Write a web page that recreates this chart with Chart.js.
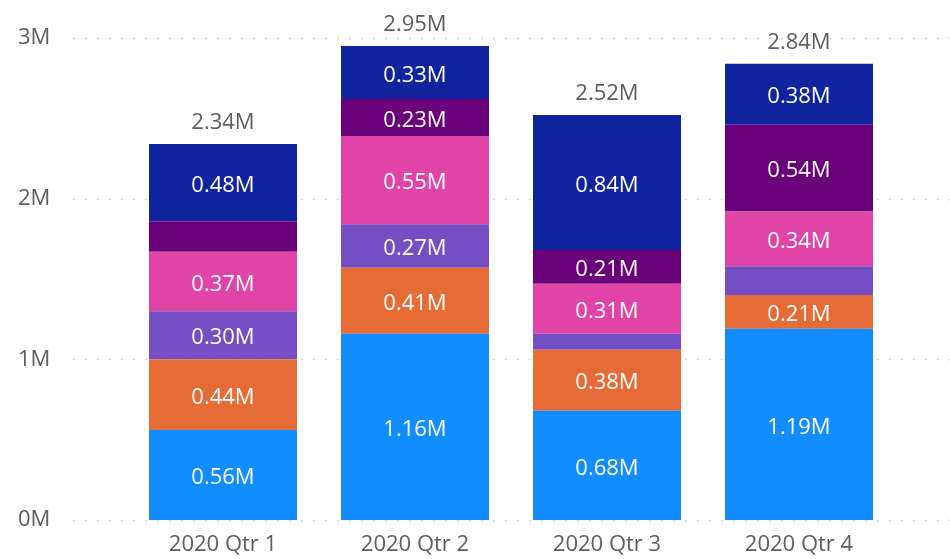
<!DOCTYPE html>
<html lang="en">
<head>
    <meta charset="UTF-8">
    <title>Quarterly Stacked Columns</title>
    <script src="https://cdn.jsdelivr.net/npm/chart.js"></script>
    <style>
        html, body {
            margin: 0;
            padding: 0;
            background: #ffffff;
        }
        .wrap {
            width: 950px;
            height: 559px;
        }
    </style>
</head>
<body>
    <div class="wrap">
        <canvas id="qtrChart" width="950" height="559"></canvas>
    </div>

    <script>
        // values in millions, bottom segment first
        const quarters = ['2020 Qtr 1', '2020 Qtr 2', '2020 Qtr 3', '2020 Qtr 4'];
        const seriesA = [0.56, 1.16, 0.68, 1.19];
        const seriesB = [0.44, 0.41, 0.38, 0.21];
        const seriesC = [0.30, 0.27, 0.10, 0.18];
        const seriesD = [0.37, 0.55, 0.31, 0.34];
        const seriesE = [0.19, 0.23, 0.21, 0.54];
        const seriesF = [0.48, 0.33, 0.84, 0.38];
        const yTicks = [0, 1, 2, 3];

        const colors = ['#118DFF', '#E66C37', '#744EC2', '#E044A7', '#6B007B', '#12239E'];
        const allSeries = [seriesA, seriesB, seriesC, seriesD, seriesE, seriesF];
        const totals = quarters.map((q, i) => allSeries.reduce((s, arr) => s + arr[i], 0));

        const fontFamily = '"Segoe UI", "Open Sans", sans-serif';
        const fmt = v => v.toFixed(2) + 'M';

        // dotted gridlines spanning wider than the bars
        const dottedGrid = {
            id: 'dottedGrid',
            beforeDatasetsDraw(chart) {
                const ctx = chart.ctx;
                const y = chart.scales.y;
                ctx.save();
                ctx.strokeStyle = '#c8c8c8';
                ctx.lineWidth = 1.5;
                ctx.setLineDash([1.5, 10.5]);
                yTicks.forEach(t => {
                    const py = Math.round(y.getPixelForValue(t)) + 0.5;
                    ctx.beginPath();
                    ctx.moveTo(chart.chartArea.left - 54, py);
                    ctx.lineTo(chart.width, py);
                    ctx.stroke();
                });
                ctx.restore();
            }
        };

        // segment labels and totals
        const barLabels = {
            id: 'barLabels',
            afterDatasetsDraw(chart) {
                const ctx = chart.ctx;
                ctx.save();
                ctx.font = '22px ' + fontFamily;
                ctx.textAlign = 'center';
                ctx.textBaseline = 'middle';
                chart.data.datasets.forEach((ds, di) => {
                    const meta = chart.getDatasetMeta(di);
                    meta.data.forEach((bar, i) => {
                        const v = ds.data[i];
                        if (v < 0.2) return;
                        ctx.fillStyle = '#ffffff';
                        ctx.fillText(fmt(v), bar.x, (bar.y + bar.base) / 2 + 3);
                    });
                });
                const topMeta = chart.getDatasetMeta(chart.data.datasets.length - 1);
                topMeta.data.forEach((bar, i) => {
                    ctx.fillStyle = '#605E5C';
                    ctx.fillText(fmt(totals[i]), bar.x, bar.y - 21);
                });
                ctx.restore();
            }
        };

        const ctx = document.getElementById('qtrChart').getContext('2d');
        new Chart(ctx, {
            type: 'bar',
            data: {
                labels: quarters,
                datasets: allSeries.map((arr, i) => ({
                    data: arr,
                    backgroundColor: colors[i],
                    borderWidth: 0,
                    barPercentage: 0.771,
                    categoryPercentage: 1
                }))
            },
            options: {
                responsive: false,
                animation: false,
                layout: {
                    padding: { top: 38, right: 55, left: 18, bottom: 0 }
                },
                plugins: {
                    legend: { display: false },
                    tooltip: { enabled: false }
                },
                scales: {
                    x: {
                        stacked: true,
                        grid: { display: false, drawTicks: false },
                        border: { display: false },
                        ticks: {
                            color: '#605E5C',
                            font: { family: fontFamily, size: 22 },
                            padding: 12
                        },
                        afterFit(scale) { scale.height = 39; }
                    },
                    y: {
                        stacked: true,
                        min: 0,
                        max: 3,
                        grid: { display: false, drawTicks: false },
                        border: { display: false },
                        ticks: {
                            stepSize: 1,
                            color: '#605E5C',
                            font: { family: fontFamily, size: 22 },
                            padding: 0,
                            crossAlign: 'far',
                            callback: v => v + 'M'
                        },
                        afterFit(scale) { scale.width = 109; }
                    }
                }
            },
            plugins: [dottedGrid, barLabels]
        });
    </script>
</body>
</html>
